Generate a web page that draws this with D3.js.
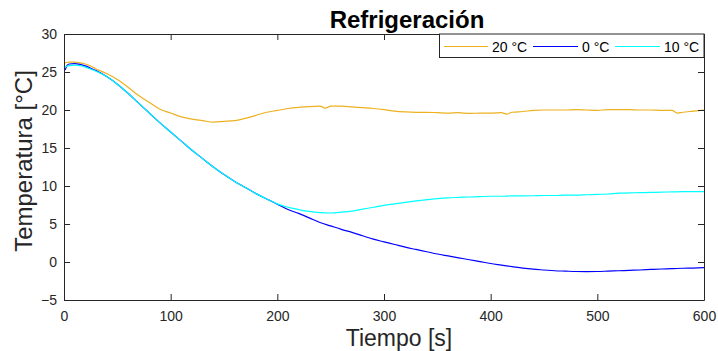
<!DOCTYPE html>
<html>
<head>
<meta charset="utf-8">
<script src="https://cdn.jsdelivr.net/npm/d3@7"></script>
<style>
  html, body { margin: 0; padding: 0; background: #fff; }
  svg { display: block; font-family: "Liberation Sans", Arial, Helvetica, sans-serif; }
</style>
</head>
<body>
<svg id="chart" width="718" height="351"></svg>
<script>
// Refrigeration curves: temperature (°C) against time (s) for three set points.

const xTicks = [0, 100, 200, 300, 400, 500, 600];
const yTicks = [-5, 0, 5, 10, 15, 20, 25, 30];

const tiempo20 = [0, 2, 5, 10, 15, 20, 25, 30, 40, 50, 60, 70, 80, 90, 100, 110, 120, 130, 140, 150,
  160, 170, 180, 190, 200, 210, 220, 230, 240, 245, 250, 260, 270, 280, 290, 300, 310, 320, 330, 340,
  350, 360, 370, 380, 390, 400, 410, 415, 420, 430, 440, 450, 460, 470, 480, 490, 500, 510, 520, 530,
  540, 550, 560, 570, 575, 580, 590, 600];
const temp20 = [26.1, 26.25, 26.3, 26.3, 26.2, 26.05, 25.8, 25.4, 24.8, 24.0, 23.0, 21.9, 21.0, 20.1, 19.6, 19.1, 18.8, 18.6, 18.4, 18.5,
  18.6, 18.9, 19.3, 19.7, 19.95, 20.2, 20.35, 20.45, 20.5, 20.25, 20.5, 20.5, 20.4, 20.3, 20.2, 20.05, 19.85, 19.75, 19.7, 19.7,
  19.65, 19.6, 19.65, 19.55, 19.6, 19.6, 19.65, 19.45, 19.7, 19.8, 19.95, 20.0, 20.0, 20.0, 20.05, 20.0, 19.95, 20.05, 20.05, 20.05,
  20.0, 20.0, 19.95, 19.95, 19.6, 19.7, 19.85, 20.0];

const tiempo0 = [0, 1, 3, 5, 10, 15, 20, 25, 30, 40, 50, 60, 70, 80, 90, 100, 110, 120, 130, 140,
  150, 160, 170, 180, 190, 200, 210, 220, 230, 240, 250, 260, 270, 280, 290, 300, 310, 320, 330, 340,
  350, 360, 370, 380, 390, 400, 410, 420, 430, 440, 450, 460, 470, 480, 490, 500, 510, 520, 530, 540,
  550, 560, 570, 580, 590, 600];
const temp0 = [25.8, 25.3, 25.9, 26.05, 26.1, 26.0, 25.8, 25.5, 25.2, 24.4, 23.4, 22.2, 20.9, 19.6, 18.3, 17.1, 15.9, 14.7, 13.6, 12.5,
  11.5, 10.6, 9.8, 9.0, 8.3, 7.6, 6.9, 6.4, 5.8, 5.2, 4.75, 4.3, 3.9, 3.45, 3.0, 2.65, 2.3, 1.95, 1.65, 1.35,
  1.05, 0.8, 0.55, 0.3, 0.05, -0.2, -0.4, -0.6, -0.8, -0.95, -1.05, -1.15, -1.2, -1.25, -1.27, -1.25, -1.2, -1.15, -1.1, -1.05,
  -0.98, -0.92, -0.88, -0.82, -0.8, -0.75];

const tiempo10 = [0, 5, 10, 15, 20, 25, 30, 40, 50, 60, 70, 80, 90, 100, 110, 120, 130, 140,
  150, 160, 170, 180, 190, 200, 210, 220, 230, 240, 250, 260, 270, 280, 290, 300, 310, 320, 330, 340,
  350, 360, 370, 380, 390, 400, 410, 420, 430, 440, 450, 460, 470, 480, 490, 500, 510, 520, 530, 540,
  550, 560, 570, 580, 590, 600];
const temp10 = [25.6, 25.85, 25.9, 25.85, 25.65, 25.4, 25.1, 24.4, 23.4, 22.2, 20.9, 19.6, 18.3, 17.1, 15.9, 14.7, 13.6, 12.5,
  11.5, 10.6, 9.8, 9.0, 8.3, 7.65, 7.2, 6.9, 6.65, 6.5, 6.45, 6.55, 6.7, 6.95, 7.2, 7.45, 7.65, 7.85, 8.05, 8.2,
  8.35, 8.45, 8.5, 8.55, 8.6, 8.65, 8.65, 8.7, 8.7, 8.72, 8.75, 8.75, 8.8, 8.8, 8.85, 8.9, 8.95, 9.05, 9.1, 9.12,
  9.15, 9.2, 9.22, 9.25, 9.25, 9.25];

const series = [
  { name: "20 °C", t: tiempo20, v: temp20, color: "#EDB120" },
  { name: "0 °C",  t: tiempo0,  v: temp0,  color: "#0000FF" },
  { name: "10 °C", t: tiempo10, v: temp10, color: "#00FFFF" }
];

const margin = { left: 64, right: 14, top: 34, bottom: 51 };
const W = 718, H = 351;
const x = d3.scaleLinear().domain([0, 600]).range([margin.left, W - margin.right]);
const y = d3.scaleLinear().domain([-5, 30]).range([H - margin.bottom, margin.top]);

const svg = d3.select("#chart");
const axisColor = "#262626";

svg.append("defs").append("clipPath").attr("id", "plotClip")
  .append("rect")
  .attr("x", x(0)).attr("y", y(30))
  .attr("width", x(600) - x(0)).attr("height", y(-5) - y(30));

// data lines
const line = d3.line().curve(d3.curveMonotoneX).x(d => x(d[0])).y(d => y(d[1]));
svg.append("g").attr("clip-path", "url(#plotClip)")
  .selectAll("path").data(series).join("path")
  .attr("fill", "none")
  .attr("stroke", d => d.color)
  .attr("stroke-width", 1.2)
  .attr("stroke-linejoin", "round")
  .attr("d", d => line(d.t.map((t, i) => [t, d.v[i]])));

// axes with inward ticks on all four sides
function styleAxis(g) {
  g.selectAll("path.domain").attr("stroke", axisColor).attr("stroke-width", 1);
  g.selectAll(".tick line").attr("stroke", axisColor).attr("stroke-width", 1);
  g.selectAll(".tick text").attr("fill", axisColor).attr("font-size", 14)
    .attr("font-family", "Liberation Sans, Arial, sans-serif");
}

svg.append("g").attr("transform", `translate(0,${y(-5)})`)
  .call(d3.axisBottom(x).tickValues(xTicks).tickSizeInner(-6).tickSizeOuter(0).tickPadding(11))
  .call(styleAxis);
svg.append("g").attr("transform", `translate(0,${y(30)})`)
  .call(d3.axisTop(x).tickValues(xTicks).tickSizeInner(-6).tickSizeOuter(0).tickFormat(""))
  .call(styleAxis);
svg.append("g").attr("transform", `translate(${x(0)},0)`)
  .call(d3.axisLeft(y).tickValues(yTicks).tickSizeInner(-6).tickSizeOuter(0).tickPadding(7))
  .call(styleAxis);
svg.append("g").attr("transform", `translate(${x(600)},0)`)
  .call(d3.axisRight(y).tickValues(yTicks).tickSizeInner(-6).tickSizeOuter(0).tickFormat(""))
  .call(styleAxis);

// legend in the top-right corner
const legX0 = 439.5, legX1 = x(600), legY0 = y(30), legY1 = 57.5;
const leg = svg.append("g");
leg.append("rect")
  .attr("x", legX0).attr("y", legY0)
  .attr("width", legX1 - legX0).attr("height", legY1 - legY0)
  .attr("fill", "#fff").attr("stroke", axisColor).attr("stroke-width", 1);
const legItems = [
  { x1: 444, x2: 488, tx: 492 },
  { x1: 533, x2: 578, tx: 582 },
  { x1: 615, x2: 660, tx: 664 }
];
series.forEach((s, i) => {
  const it = legItems[i];
  leg.append("line")
    .attr("x1", it.x1).attr("x2", it.x2).attr("y1", 46.5).attr("y2", 46.5)
    .attr("stroke", s.color).attr("stroke-width", 1.2);
  leg.append("text")
    .attr("x", it.tx).attr("y", 52)
    .attr("font-size", 14).attr("fill", "#000")
    .text(s.name);
});

// title and axis labels
svg.append("text")
  .attr("x", 407).attr("y", 27.5)
  .attr("text-anchor", "middle")
  .attr("font-size", 24).attr("font-weight", "bold").attr("fill", "#000")
  .text("Refrigeración");

svg.append("text")
  .attr("x", 399).attr("y", 345.5)
  .attr("text-anchor", "middle")
  .attr("font-size", 23).attr("fill", axisColor)
  .text("Tiempo [s]");

svg.append("text")
  .attr("transform", "translate(32,161) rotate(-90)")
  .attr("text-anchor", "middle")
  .attr("font-size", 24).attr("fill", axisColor)
  .text("Temperatura [°C]");
</script>
</body>
</html>
